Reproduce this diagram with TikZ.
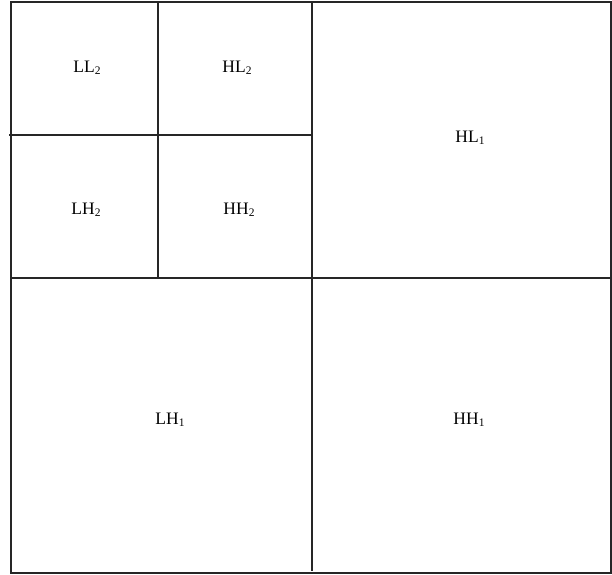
\documentclass[tikz,border=0pt]{standalone}
\usepackage{fontspec}
\setmainfont{Liberation Serif}
\tikzset{
  grid line/.style={line width=1.1pt, draw=black!85},
  band label/.style={anchor=base, inner sep=0pt, font=\fontsize{17.5}{20}\selectfont}
}
\newcommand{\bandlbl}[2]{#1\raisebox{-0.3ex}{\fontsize{11.5}{12}\selectfont #2}}
\begin{document}
\begin{tikzpicture}[x=1pt,y=-1pt]
\useasboundingbox (0,0) rectangle (612,574);
% outer frame
\draw[grid line] (11,2) rectangle (611,573);
% coordinates for the subdivision lines
\coordinate (mtop) at (312,2);
\coordinate (mbot) at (312,571);
\coordinate (hleft) at (11,278);
\coordinate (hright) at (611,278);
\coordinate (qtop) at (158,2);
\coordinate (qbot) at (158,278);
\coordinate (sleft) at (9,135);
\coordinate (sright) at (312,135);
\draw[grid line] (mtop) -- (mbot);
\draw[grid line] (hleft) -- (hright);
\draw[grid line] (qtop) -- (qbot);
\draw[grid line] (sleft) -- (sright);
% labels
\node[band label] (ll2) at (87,72) {\bandlbl{LL}{2}};
\node[band label] (hl2) at (237,72) {\bandlbl{HL}{2}};
\node[band label] (lh2) at (86,214) {\bandlbl{LH}{2}};
\node[band label] (hh2) at (239,214) {\bandlbl{HH}{2}};
\node[band label] (hl1) at (470,142.5) {\bandlbl{HL}{1}};
\node[band label] (lh1) at (170,424) {\bandlbl{LH}{1}};
\node[band label] (hh1) at (469,424) {\bandlbl{HH}{1}};
\end{tikzpicture}
\end{document}
